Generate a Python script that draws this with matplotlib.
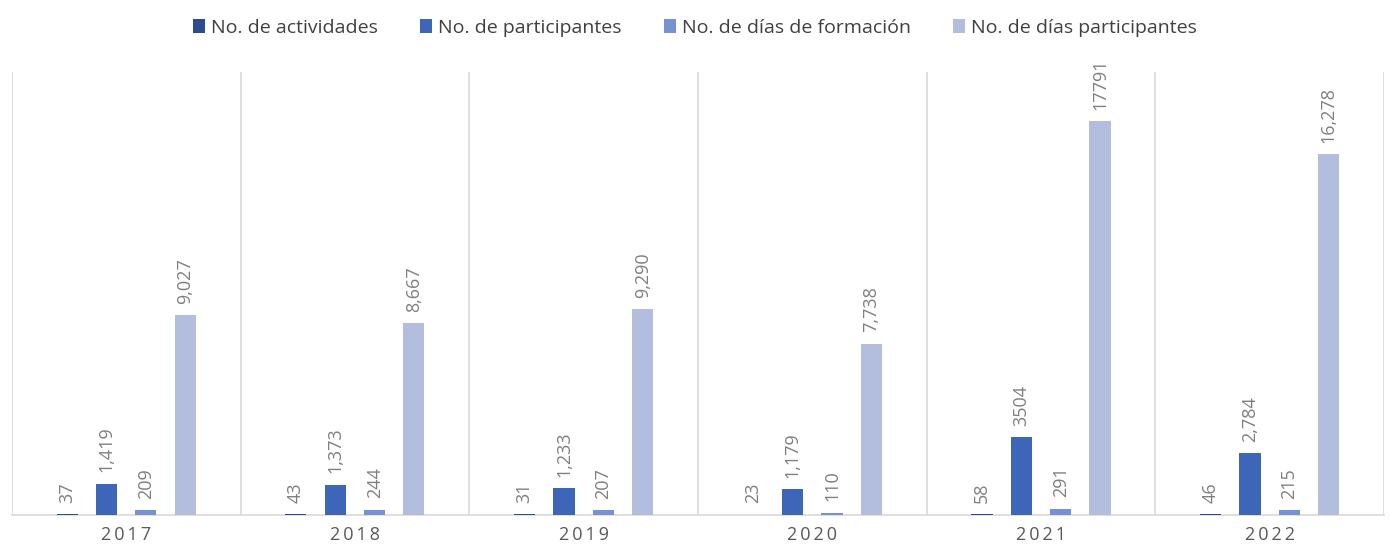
import numpy as np
import matplotlib.pyplot as plt

plt.rcParams['font.family'] = ['Open Sans', 'DejaVu Sans']

# ----------------------------------------------------------------------
# Data
# ----------------------------------------------------------------------
years = ["2017", "2018", "2019", "2020", "2021", "2022"]
series_names = ["No. de actividades", "No. de participantes",
                "No. de días de formación", "No. de días participantes"]
actividades = [37, 43, 31, 23, 58, 46]
participantes = [1419, 1373, 1233, 1179, 3504, 2784]
dias_formacion = [209, 244, 207, 110, 291, 215]
dias_participantes = [9027, 8667, 9290, 7738, 17791, 16278]

labels_act = ["37", "43", "31", "23", "58", "46"]
labels_part = ["1,419", "1,373", "1,233", "1,179", "3504", "2,784"]
labels_form = ["209", "244", "207", "110", "291", "215"]
labels_dpart = ["9,027", "8,667", "9,290", "7,738", "17791", "16,278"]

colors = ["#2C4C8E", "#3D66B8", "#7692D3", "#B3BEDF"]

# ----------------------------------------------------------------------
# Figure
# ----------------------------------------------------------------------
fig = plt.figure(figsize=(13.9, 5.52), dpi=100)
ax = fig.add_axes([0.0086, 0.067, 0.9871, 0.8026])

x = np.arange(len(years))
step = 0.172
width = 0.092
offsets = [-1.5 * step, -0.5 * step, 0.5 * step, 1.5 * step]

all_vals = [actividades, participantes, dias_formacion, dias_participantes]
all_labels = [labels_act, labels_part, labels_form, labels_dpart]

for i, (vals, labs) in enumerate(zip(all_vals, all_labels)):
    bars = ax.bar(x + offsets[i], vals, width, color=colors[i],
                  label=series_names[i], zorder=3)
    for b, lab in zip(bars, labs):
        ax.annotate(lab, (b.get_x() + b.get_width() / 2, b.get_height()),
                    textcoords="offset points", xytext=(0, 8),
                    ha="center", va="bottom", rotation=90,
                    fontsize=13, color="#7F7F7F")

ax.set_xlim(-0.5, len(years) - 0.5)
ax.set_ylim(0, 20000)

# category separators
for b in np.arange(-0.5, len(years) + 0.5, 1.0):
    ax.axvline(b, color="#D9D9D9", linewidth=1.2, zorder=1)

for s in ["top", "right", "left"]:
    ax.spines[s].set_visible(False)
ax.spines["bottom"].set_color("#D9D9D9")
ax.spines["bottom"].set_linewidth(1.2)

ax.set_yticks([])
ax.set_xticks(x)
# letter-spaced year labels
ax.set_xticklabels(["\u2009".join(y) for y in years], fontsize=13,
                   color="#595959")
ax.tick_params(axis="x", length=0, pad=8)

fig.legend(loc="upper center", ncol=4, frameon=False,
           bbox_to_anchor=(0.5, 0.998), fontsize=14,
           handlelength=0.6, handleheight=0.8, handletextpad=0.3,
           columnspacing=2.2, labelcolor="#404040")

fig.savefig("out.png", dpi=100)
